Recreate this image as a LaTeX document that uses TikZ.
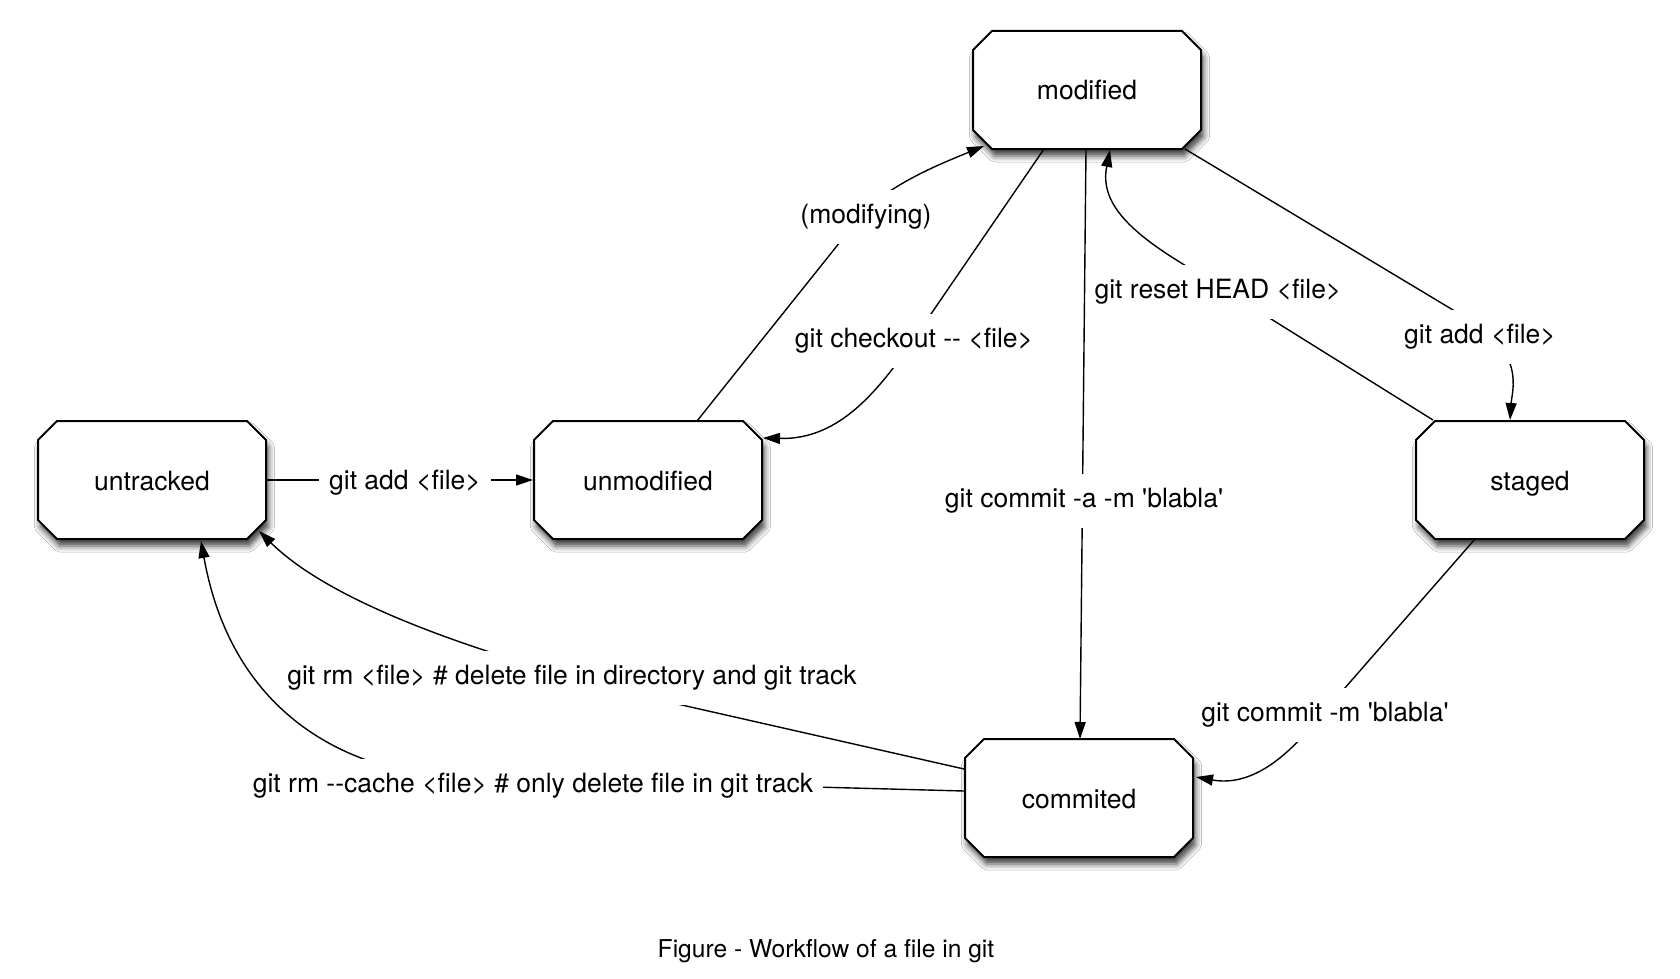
\documentclass[tikz,border=0pt]{standalone}
\usepackage{fontspec}
\newfontfamily\hel{TeX Gyre Heros}
\usetikzlibrary{shapes.misc,arrows.meta,shadows.blur}
\begin{document}
\begin{tikzpicture}[x=1pt,y=-1pt,
  font=\hel\fontsize{26.5}{32}\selectfont,
  state/.style={chamfered rectangle, chamfered rectangle xsep=9.5pt,
    chamfered rectangle ysep=9.5pt, draw=black, line width=2pt, fill=white,
    minimum width=228pt, minimum height=118pt, inner sep=0pt,
    text height=20pt, text depth=0pt,
    blur shadow={shadow xshift=2.5pt, shadow yshift=-7pt,
      shadow blur radius=6pt, shadow opacity=75}},
  conn/.style={line width=1.4pt, -{Triangle[length=17pt,width=11pt]}},
  lbl/.style={fill=white, inner xsep=10pt, inner ysep=14pt}
]
\useasboundingbox (0,0) rectangle (1680,979);
\fill[white] (0,0) rectangle (1680,979);

\node[state] (modified)   at (1087,90)  {modified};
\node[state] (untracked)  at (152,480)  {untracked};
\node[state] (unmodified) at (648,480)  {unmodified};
\node[state] (staged)     at (1530,480) {staged};
\node[state] (commited)   at (1079,798) {commited};

% untracked -> unmodified
\draw[conn] (untracked.east) -- (unmodified.west)
  node[lbl] (l1) at (405,483) {git add <file>};

% unmodified -> modified
\draw[conn] ([shift={(49,-59)}]unmodified.center) -- (860,217)
  .. controls (886,185) and (945,162) .. ([shift={(-103,56)}]modified.center)
  node[lbl] (l2) at (866,217) {(modifying)};

% modified -> unmodified
\draw[conn] ([shift={(-43,59)}]modified.center) -- (920,330)
  .. controls (880,390) and (840,440) .. ([shift={(115,-42)}]unmodified.center)
  node[lbl] (l3) at (914,341) {git checkout -- <file>};

% staged -> modified
\draw[conn] ([shift={(-97,-60)}]staged.center) -- (1178,261)
  .. controls (1125,228) and (1100,200) .. ([shift={(23,60)}]modified.center)
  node[lbl] (l5) at (1218,292) {git reset HEAD <file>};

% modified -> commited
\draw[conn] ([shift={(-1,59)}]modified.center) -- ([shift={(1,-59)}]commited.center)
  node[lbl] (l4) at (1084,501) {git commit -a -m 'blabla'};

% modified -> staged
\draw[conn] ([shift={(98,59)}]modified.center) -- (1468,319)
  .. controls (1526,354) and (1512,390) .. ([shift={(-20,-60)}]staged.center)
  node[lbl] (l6) at (1480,337) {git add <file>};

% staged -> commited
\draw[conn] ([shift={(-55,59)}]staged.center) -- (1303,736)
  .. controls (1270,772) and (1240,785) .. ([shift={(117,-21)}]commited.center)
  node[lbl] (l7) at (1325,715) {git commit -m 'blabla'};

% commited -> untracked (git rm)
\draw[conn] ([shift={(-115,-29)}]commited.center) -- (673,703)
  .. controls (528,668) and (343,614) .. ([shift={(107,51)}]untracked.center)
  node[lbl, inner xsep=8pt] (l8) at (572,678) {git rm <file> \# delete file in directory and git track};

% commited -> untracked (git rm --cache)
\draw[conn] ([shift={(-115,-7)}]commited.center) -- (480,778)
  .. controls (370,780) and (235,730) .. ([shift={(49,61)}]untracked.center)
  node[lbl] (l9) at (533,786) {git rm --cache <file> \# only delete file in git track};

\node[font=\hel\fontsize{24.6}{30}\selectfont, anchor=base] (caption) at (826,957)
  {Figure - Workflow of a file in git};
\end{tikzpicture}
\end{document}
